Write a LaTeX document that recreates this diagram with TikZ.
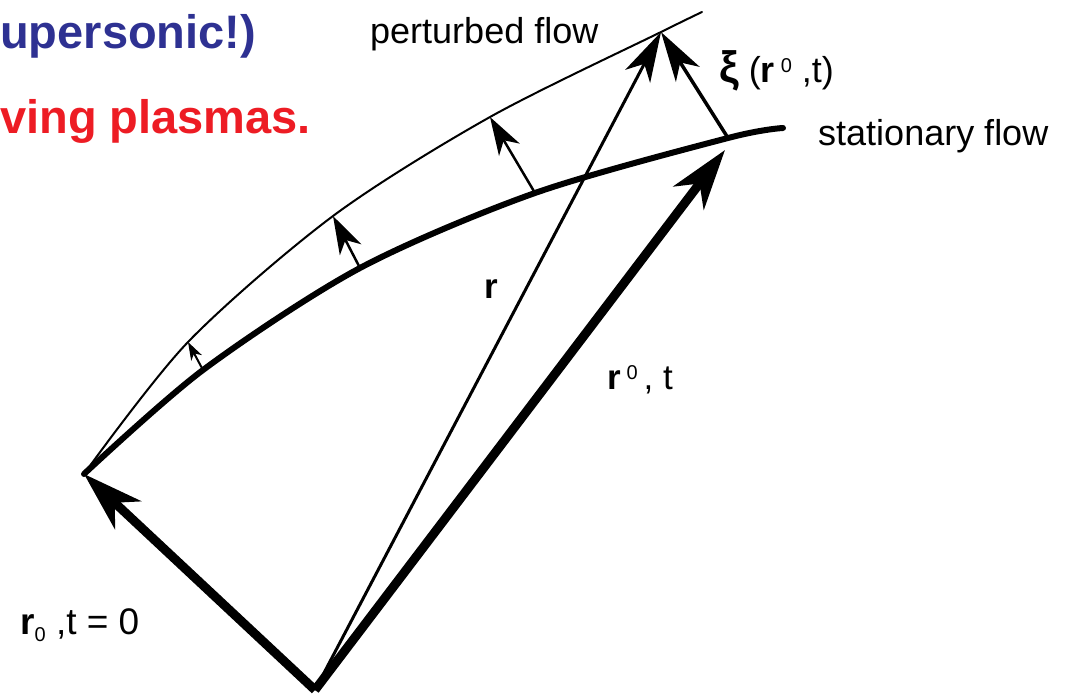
\documentclass[tikz,border=0pt]{standalone}
\usepackage{fontspec}
\setmainfont{Liberation Sans}
\usepackage{tikz}
\usetikzlibrary{arrows.meta}
\definecolor{HeadBlue}{RGB}{46,49,146}
\definecolor{HeadRed} {RGB}{237,28,36}
\newcommand{\smalldigit}[2][20]{{\fontsize{#1}{#1}\selectfont #2}}

\begin{document}
\begin{tikzpicture}[x=1pt,y=-1pt,
  every node/.style={inner sep=0pt,anchor=base west,font=\fontsize{36}{40}\selectfont},
  headline/.style={font=\fontsize{47}{50}\selectfont\bfseries},
  vlabel/.style={font=\fontsize{35}{38}\selectfont},
  bigvec/.style={line width=9pt,-{Stealth[length=60pt,width=38pt,inset=18pt]}},
  thinvec/.style={line width=3pt,-{Stealth[length=50pt,width=28pt,inset=14pt]}},
  dispvec/.style={line width=2.5pt,-{Stealth[length=38pt,width=24pt,inset=11pt]}}]
\useasboundingbox (0,0) rectangle (1068,696);
% points of the two flows
\coordinate (O) at (315,690);
\coordinate (A) at (84,474);
\coordinate (s1) at (203,370); \coordinate (p1) at (188,342);
\coordinate (s2) at (360,268); \coordinate (p2) at (333,216);
\coordinate (s3) at (535,193); \coordinate (p3) at (490,117);
\coordinate (S) at (728,138);  \coordinate (P) at (661,32);
\coordinate (B) at (725,150);
\coordinate (sEnd) at (783,128); \coordinate (pEnd) at (702,12);
% flows
\draw[line width=6pt,line cap=round] plot[smooth] coordinates {(A) (s1) (s2) (s3) (S) (sEnd)};
\draw[line width=2pt,line cap=round] plot[smooth] coordinates {(A) (p1) (p2) (p3) (P) (pEnd)};
% displacements
\draw[line width=2pt,-{Stealth[length=18pt,width=12pt,inset=5pt]}] (s1) -- (p1);
\foreach \s/\p in {s2/p2,s3/p3} \draw[dispvec] (\s) -- (\p);
\draw[thinvec,line width=3.5pt] (S) -- (P);
% position vectors
\draw[bigvec] (O) -- (A);
\draw[bigvec] (O) -- (B);
\draw[thinvec] (O) -- (P);
% labels
\node[headline,text=HeadBlue] (sup) at (0,48) {upersonic!)};
\node[headline,text=HeadRed] (plas) at (0,133) {ving plasmas.};
\node (pert) at (370,43) {perturbed flow};
\node (stat) at (818,145) {stationary flow};
\node (xi) at (719,82) {{\fontsize{44}{44}\selectfont\bfseries ξ} (\textbf{r}\,\raisebox{10pt}{\smalldigit{0}}\;,t)};
\node[vlabel] (rlab) at (484,298) {\textbf{r}};
\node[vlabel] (r0t) at (607,389) {\textbf{r}\,\raisebox{10pt}{\smalldigit{0}}\,, t};
\node[vlabel,font=\fontsize{37}{40}\selectfont] (r00) at (20,634) {\textbf{r}\raisebox{-7pt}{\smalldigit{0}} ,t = 0};
\end{tikzpicture}
\end{document}
